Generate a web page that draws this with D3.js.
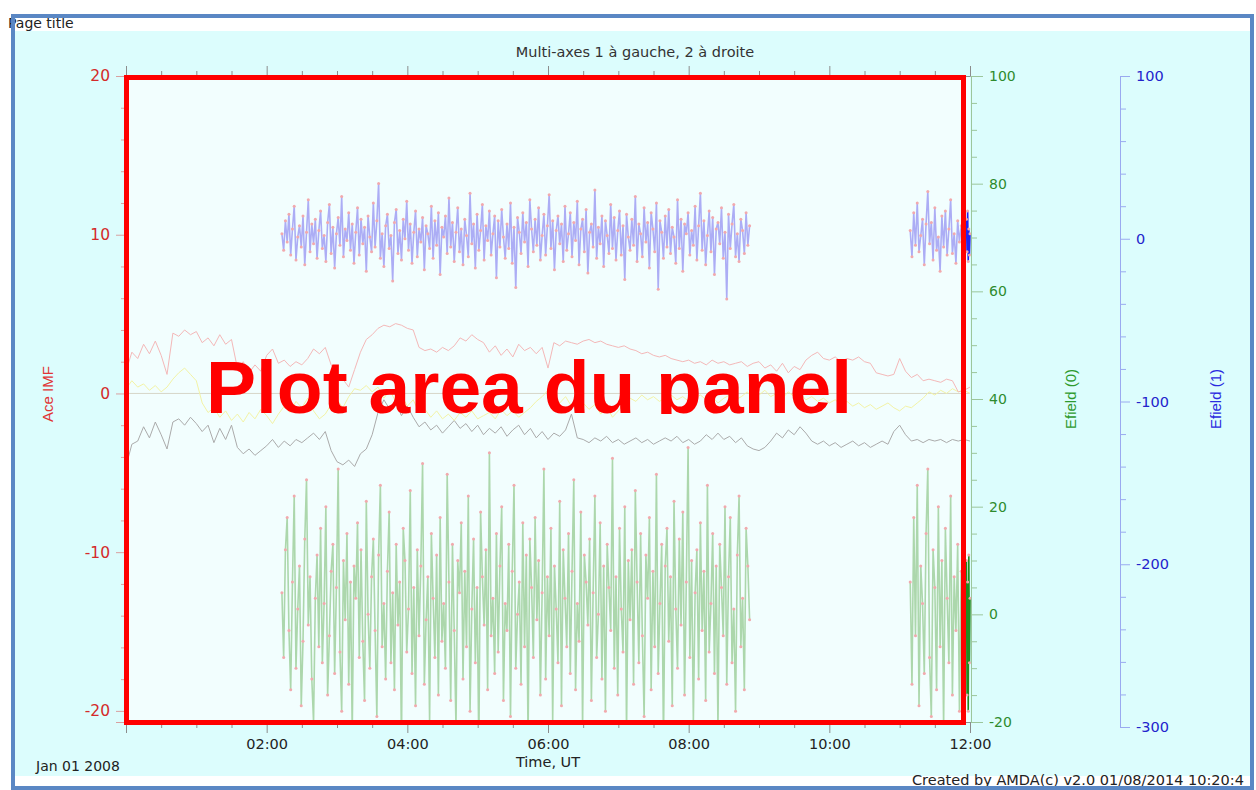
<!DOCTYPE html>
<html><head><meta charset="utf-8">
<script src="https://cdn.jsdelivr.net/npm/d3@7"></script>
<style>body{margin:0;background:#fff;} svg{display:block;font-family:"DejaVu Sans",sans-serif;}</style>
</head><body>
<svg id="c" width="1256" height="790"></svg>
<script>
// ---------- DATA ----------
const imfStepMin = 5; // Ace IMF samples every 5 min from 00:00
const imfRed = [1.4,2.6,2.2,3.1,2.5,3.3,2.4,1.2,3.8,3.6,4.0,3.7,3.9,3.2,3.5,3.0,3.7,3.1,3.4,1.6,
2.0,1.3,1.8,1.4,2.4,2.8,1.9,2.1,1.7,2.0,1.8,2.2,2.8,2.5,2.9,1.8,1.2,0.9,0.4,1.5,
2.6,3.4,3.7,4.1,4.3,4.2,4.4,4.3,4.1,4.0,2.9,2.7,2.8,2.6,2.9,2.7,3.0,3.5,3.3,3.7,
3.4,3.2,2.6,3.0,2.4,2.8,2.3,3.1,2.7,2.9,2.5,2.9,1.6,3.2,3.0,3.3,3.2,3.1,3.3,3.4,
3.2,3.3,3.1,3.0,2.9,3.0,2.8,2.7,2.5,2.6,2.4,2.3,2.4,2.2,2.1,2.0,2.1,1.9,2.0,1.8,
2.1,1.9,2.0,1.8,1.9,2.0,1.7,1.9,2.0,1.6,1.8,1.4,1.9,1.3,1.7,1.5,2.1,2.4,2.6,2.2,
2.1,2.3,2.0,2.2,2.1,2.3,2.0,1.9,1.3,1.2,1.1,1.2,2.2,1.4,1.0,1.2,0.8,0.9,0.8,0.7,
0.9,0.8,0.1,0.2,0.4];
const imfYellow = [0.3,0.8,0.4,0.6,0.2,0.5,0.1,0.4,0.9,1.3,1.6,1.2,0.8,-0.6,-1.2,-0.9,-1.5,-1.1,-1.7,-1.3,
-1.8,-1.2,-1.6,-1.0,-1.4,-1.9,-1.3,-0.8,-1.2,-0.5,-0.9,-0.3,-1.1,-1.6,-1.3,-0.7,-0.4,-0.9,-0.2,0.3,
0.2,0.5,0.1,0.4,-0.3,0.2,-0.5,-0.1,-0.8,-0.4,-1.2,-1.0,-1.5,-1.1,-1.6,-1.3,-1.7,-1.2,-1.5,-1.1,
-1.6,-1.4,-1.2,-1.6,-1.0,-1.4,-1.1,-1.5,-1.2,-0.9,-0.5,-0.2,0.2,-0.3,-0.6,-0.2,-0.8,-0.4,-0.6,-1.0,
-0.7,-1.3,-0.8,-1.5,-1.1,-0.6,-0.3,-0.5,-0.1,-0.4,-0.2,-0.5,-0.3,-0.1,-0.4,-0.2,-0.5,-0.3,-0.1,-0.4,
-0.2,-0.6,-0.3,-0.1,-0.4,-0.2,0.1,-0.3,-0.1,0.2,-0.2,0.0,-0.3,0.1,-0.2,0.0,-0.4,-0.2,-0.5,-0.3,
-0.6,-0.4,-0.7,-0.5,-0.8,-0.6,-0.9,-0.7,-1.0,-0.8,-0.6,-0.9,-1.1,-0.8,-0.9,-0.6,-0.3,0.1,-0.1,0.2,
0.0,0.3,0.1,0.2,0.0];
const imfGray = [-4.6,-3.2,-3.0,-2.1,-2.8,-1.8,-2.6,-3.5,-1.8,-1.6,-2.0,-1.5,-1.9,-2.4,-2.0,-3.1,-2.2,-2.9,-2.0,-3.4,
-3.8,-3.5,-3.9,-3.6,-3.3,-2.9,-3.4,-3.0,-3.3,-2.9,-3.1,-2.8,-2.5,-2.9,-2.4,-3.6,-4.3,-4.5,-4.2,-4.6,
-3.8,-3.5,-2.6,-1.2,-0.4,-1.0,-0.6,-1.4,-0.8,-1.5,-2.1,-1.8,-2.3,-2.0,-2.5,-2.1,-1.7,-2.2,-1.9,-2.4,
-2.0,-2.6,-2.2,-2.5,-2.1,-2.7,-2.3,-2.0,-2.6,-2.2,-2.8,-2.4,-2.9,-2.5,-2.7,-2.3,-1.3,-2.8,-2.9,-3.1,
-2.8,-3.0,-2.7,-3.1,-2.9,-3.2,-3.0,-2.8,-3.1,-2.9,-3.2,-3.0,-2.8,-3.0,-2.7,-3.1,-2.9,-3.2,-3.0,-2.6,
-2.9,-2.5,-2.9,-2.7,-3.1,-2.8,-3.3,-3.5,-3.6,-3.4,-3.0,-2.5,-2.8,-2.3,-2.6,-2.1,-2.5,-3.0,-3.2,-3.0,
-3.3,-3.1,-3.4,-3.2,-3.0,-3.3,-3.1,-3.4,-3.2,-3.0,-3.2,-2.4,-2.0,-2.6,-3.0,-2.9,-3.1,-2.9,-3.0,-2.9,
-3.1,-2.9,-3.0,-2.9,-3.0];

// Efield segments: start time (HH:MM), sampling step in minutes
const efSegStart = ["02:13", "11:09", "11:57"];
const efSegStepMin = [1.5, 1.5, 0.5];
const efield0A = [4,-8,12,18,-3,-14,6,22,-10,1,9,-17,-5,14,25,-2,7,-12,-20,3,
11,-6,16,-9,2,20,-15,-4,8,13,-11,5,27,-7,-18,10,-1,15,-13,6,
-22,9,3,17,-8,12,-5,-16,21,0,-10,7,14,-3,-19,11,24,-6,2,-12,
8,19,-9,4,-14,13,-2,6,-24,16,10,-7,1,23,-11,5,-17,12,-4,9,
28,-13,-1,7,-20,15,3,-8,11,-15,18,-5,2,-10,26,6,-16,13,-3,-21,
10,4,17,-12,8,-6,22,-18,1,14,-9,5,-25,19,7,-2,12,-14,30,-4,
3,-11,15,-7,9,20,-16,2,-3,13,-19,8,24,-10,0,6,-13,17,-6,11,
-23,14,5,-8,18,-1,10,-15,4,27,-12,7,-4,16,-20,9,1,-9,21,-17,
12,3,-6,15,-11,8,25,-14,2,-5,19,-21,11,6,-2,14,-16,4,22,-8,
0,17,-12,9,-18,13,5,-3,29,-10,7,-15,16,1,-7,20,-22,10,-1,12,
-13,23,6,-9,15,-4,-19,11,3,18,-14,8,-6,26,-11,2,13,-24,9,16,
-5,7,-17,21,1,-10,14,-2,19,-15,6,31,-8,10,-20,4,12,-12,17,-3,
8,-16,24,-7,2,15,-11,9,-21,13,5,-4,20,-13,7,18,-9,1,-18,11,
22,-6,3,-14,16,9,-1];
const efield0B = [6,-13,18,-4,24,-17,9,2,-11,15,27,-8,-19,12,5,-14,20,-6,10,-21,16,3,-9,22,-15,7,-3,13,-18,8];
const efield0C = [10,-15,6,-18,11,-9,3];
const efield1A = [3,-7,11,-2,15,-10,6,20,-13,1,8,-5,14,-16,4,24,-8,9,-3,12,
-12,5,17,-6,2,-14,10,21,-9,7,-18,3,13,-4,26,-11,6,-1,16,-7,
9,-15,4,19,-10,12,-3,7,-20,14,1,-8,22,-5,11,34,-12,3,-17,8,
15,-6,2,-26,10,18,-9,5,-13,12,0,23,-7,9,-15,4,17,-11,6,-2,
13,-19,8,3,-6,20,-12,11,-4,16,-22,7,1,14,-9,25,-5,10,-14,4,
19,-8,6,-16,12,2,-11,28,-3,9,-18,15,-7,5,21,-13,8,-1,17,-10,
3,14,-24,11,-5,18,1,-12,9,-6,22,-15,7,-30,13,4,-9,16,-2,10,
-17,24,6,-8,12,-4,19,-13,2,15,-10,8,27,-6,11,-19,5,14,-3,9,
-14,20,-7,3,16,-11,10,-1,23,-16,6,12,-8,18,-21,4,9,-5,30,-12,
7,-3,14,-17,11,2,-9,21,-6,13,-13,5,17,-10,8,-25,15,1,-7,12,
-4,26,-14,9,3,-11,19,-2,10,-18,16,6,-8,22,-31,11,4,-12,14,-5,
18,-9,7,1,-15,24,-6,12,-20,9,3,16,-10,5,-4,20,-13,8,28,-7,
11,-16,2,17,-8,13,-22,6,10,-3,19,-12,4,-37,15,-6,9,21,-11,3,
-14,12,5,-9,16,-4,8];
const efield1B = [5,-11,16,-4,22,-8,2,12,-16,9,29,-3,10,-13,19,-7,1,-20,14,-5,17,-10,6,24,-9,3,-15,11,-2,8];
const efield1C = [12,-8,17,-14,6,-10,3];

const xMajorLabels = ["02:00","04:00","06:00","08:00","10:00","12:00"];
const leftTicks = [20,10,0,-10,-20];
const greenTicks = [100,80,60,40,20,0,-20];
const blueTicks = [100,0,-100,-200,-300];

// ---------- HELPERS ----------
const t0 = Date.UTC(2008,0,1);
const tMin = m => new Date(t0 + m*60000);
const hm = s => { const [h,m] = s.split(":").map(Number); return h*60+m; };
const toPts = (vals, startMin, step) => vals.map((v,i)=>({t:tMin(startMin+i*step), v}));

const svg = d3.select("#c");
const W = 1256, H = 790;

// page background
svg.append("rect").attr("width",W).attr("height",H).attr("fill","#fff");
svg.append("rect").attr("x",15).attr("y",31).attr("width",1235).attr("height",745).attr("fill","#dcfdfd");

svg.append("text").attr("x",8).attr("y",28).attr("font-size",14).attr("fill","#222").text("Page title");
svg.append("text").attr("x",635).attr("y",57).attr("text-anchor","middle").attr("font-size",14.5).attr("fill","#333")
  .text("Multi-axes 1 à gauche, 2 à droite");

// scales
const L = 126, R = 970, T = 76, B = 722;
const x = d3.scaleUtc().domain([tMin(0), tMin(720)]).range([L, R]);
const yL = d3.scaleLinear().domain([-20.7, 20]).range([B, T]);
const yG = d3.scaleLinear().domain([-20, 100]).range([B, T]);
const yB = d3.scaleLinear().domain([-300, 100]).range([727, T]);

svg.append("rect").attr("x",L).attr("y",T).attr("width",R-L).attr("height",B-T).attr("fill","#f2fefe");

const defs = svg.append("defs");
defs.append("clipPath").attr("id","plotclip").append("rect").attr("x",L).attr("y",T).attr("width",R-L+3).attr("height",B-T);
defs.append("clipPath").attr("id","txtclip").append("rect").attr("x",0).attr("y",0).attr("width",W).attr("height",414);

const plot = svg.append("g").attr("clip-path","url(#plotclip)");

// zero line
plot.append("line").attr("x1",L).attr("x2",R).attr("y1",yL(0)).attr("y2",yL(0)).attr("stroke","#d6d6c8").attr("stroke-width",1);

const lineL = d3.line().x(d=>x(d.t)).y(d=>yL(d.v));
[[imfGray,"#ababab"],[imfYellow,"#f3f3a6"],[imfRed,"#f4b8b8"]].forEach(([arr,c])=>{
  plot.append("path").datum(toPts(arr,0,imfStepMin)).attr("d",lineL).attr("fill","none").attr("stroke",c).attr("stroke-width",1);
});

function drawSeries(segs, yScale, lineColor, darkColor){
  const ln = d3.line().x(d=>x(d.t)).y(d=>yScale(d.v));
  segs.forEach((vals,k)=>{
    const pts = toPts(vals, hm(efSegStart[k]), efSegStepMin[k]);
    const col = k===2 ? darkColor : lineColor;
    plot.append("path").datum(pts).attr("d",ln).attr("fill","none").attr("stroke",col).attr("stroke-width",1.6);
    plot.append("g").selectAll("circle").data(pts).join("circle")
      .attr("cx",d=>x(d.t)).attr("cy",d=>yScale(d.v)).attr("r",1.5).attr("fill","#f2a9ad");
  });
}
drawSeries([efield0A,efield0B,efield0C], yG, "#acd7ac", "#1f8a1f");
drawSeries([efield1A,efield1B,efield1C], yB, "#acadf5", "#2222ee");

// ---------- AXES ----------
const majorT = d3.range(0, 721, 120).map(tMin);
const minorT = d3.range(0, 721, 30).filter(m=>m%120).map(tMin);
const fmtX = d => { const m = (d - t0)/60000; return m===0 ? "" : xMajorLabels[m/120-1]; };

function styleAxis(g, tickCol, textCol, size){
  g.selectAll(".domain").attr("stroke",tickCol);
  g.selectAll(".tick line").attr("stroke",tickCol);
  g.selectAll("text").attr("fill",textCol).attr("font-size",size).attr("font-family","DejaVu Sans, sans-serif");
}

// bottom
let g = svg.append("g").attr("transform",`translate(0,${B})`)
  .call(d3.axisBottom(x).tickValues(majorT).tickSize(11).tickPadding(6).tickFormat(fmtX));
styleAxis(g,"#8c8c8c","#222",14.5);
g = svg.append("g").attr("transform",`translate(0,${B})`)
  .call(d3.axisBottom(x).tickValues(minorT).tickSize(6).tickFormat(""));
g.select(".domain").remove(); styleAxis(g,"#8c8c8c","#222",14);
// top
g = svg.append("g").attr("transform",`translate(0,${T})`)
  .call(d3.axisTop(x).tickValues(majorT).tickSize(10).tickFormat(""));
styleAxis(g,"#8c8c8c","#222",14);
g = svg.append("g").attr("transform",`translate(0,${T})`)
  .call(d3.axisTop(x).tickValues(minorT).tickSize(5).tickFormat(""));
g.select(".domain").remove(); styleAxis(g,"#8c8c8c","#222",14);

svg.append("text").attr("x",548).attr("y",767).attr("text-anchor","middle").attr("font-size",14.5).attr("fill","#222").text("Time, UT");
svg.append("text").attr("x",36).attr("y",771).attr("font-size",14).attr("fill","#222").text("Jan 01 2008");

// left axis
g = svg.append("g").attr("transform",`translate(${L},0)`)
  .call(d3.axisLeft(yL).tickValues(leftTicks).tickSize(10).tickPadding(6).tickFormat(d=>String(d)));
styleAxis(g,"#d9a0a0","#d42a2a",15.5);
g = svg.append("g").attr("transform",`translate(${L},0)`)
  .call(d3.axisLeft(yL).tickValues(d3.range(-20,21,2).filter(v=>v%10)).tickSize(5).tickFormat(""));
g.select(".domain").remove(); styleAxis(g,"#d9a0a0","#d42a2a",14);
svg.append("text").attr("transform","translate(53,394) rotate(-90)").attr("text-anchor","middle")
  .attr("font-family","Liberation Sans, Arial, sans-serif").attr("font-size",15).attr("fill","#e03535").text("Ace IMF");

// green right axis
g = svg.append("g").attr("transform",`translate(971,0)`)
  .call(d3.axisRight(yG).tickValues(greenTicks).tickSize(12).tickPadding(6).tickFormat(d=>String(d)));
styleAxis(g,"#9cc69c","#2e8b2e",14);
g = svg.append("g").attr("transform",`translate(971,0)`)
  .call(d3.axisRight(yG).tickValues(d3.range(-20,101,5).filter(v=>v%20)).tickSize(6).tickFormat(""));
g.select(".domain").remove(); styleAxis(g,"#9cc69c","#2e8b2e",14);
svg.append("text").attr("transform","translate(1076,399) rotate(-90)").attr("text-anchor","middle")
  .attr("font-family","Liberation Sans, Arial, sans-serif").attr("font-size",15).attr("fill","#2e9a2e").text("Efield (0)");

// blue right axis
g = svg.append("g").attr("transform",`translate(1120,0)`)
  .call(d3.axisRight(yB).tickValues(blueTicks).tickSize(10).tickPadding(6).tickFormat(d=>String(d)));
styleAxis(g,"#9aaaf0","#2323cc",14.5);
g = svg.append("g").attr("transform",`translate(1120,0)`)
  .call(d3.axisRight(yB).tickValues(d3.range(-300,101,20).filter(v=>v%100)).tickSize(6).tickFormat(""));
g.select(".domain").remove(); styleAxis(g,"#9aaaf0","#2323cc",14);
svg.append("text").attr("transform","translate(1221,399) rotate(-90)").attr("text-anchor","middle")
  .attr("font-family","Liberation Sans, Arial, sans-serif").attr("font-size",15).attr("fill","#2a2ae0").text("Efield (1)");

// annotation: red frame and label
svg.append("rect").attr("x",126.5).attr("y",77.5).attr("width",837).attr("height",645)
  .attr("fill","none").attr("stroke","#ff0000").attr("stroke-width",5);
svg.append("text").attr("clip-path","url(#txtclip)").attr("x",206).attr("y",413)
  .attr("font-family","Liberation Sans, Arial, sans-serif").attr("font-weight","bold").attr("font-size",75)
  .attr("fill","#ff0000").text("Plot area du panel");

svg.append("text").attr("x",912).attr("y",785).attr("font-size",14.5).attr("fill","#222")
  .text("Created by AMDA(c) v2.0 01/08/2014 10:20:4");

// page frame
svg.append("rect").attr("x",13).attr("y",16).attr("width",1239).attr("height",772)
  .attr("fill","none").attr("stroke","#5a87c4").attr("stroke-width",4);
</script>
</body></html>
